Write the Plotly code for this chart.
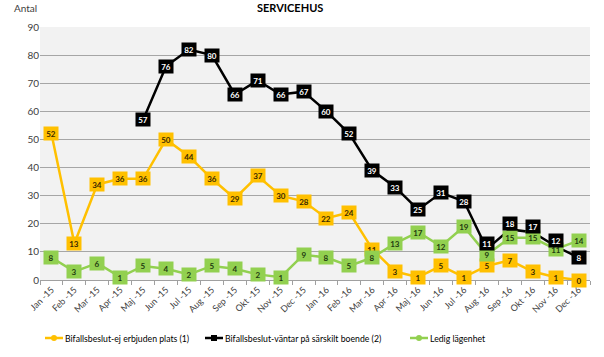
import plotly.graph_objects as go

months = ["Jan -15", "Feb -15", "Mar -15", "Apr -15", "Maj -15", "Jun -15", "Jul -15", "Aug -15",
          "Sep -15", "Okt -15", "Nov -15", "Dec -15", "Jan -16", "Feb -16", "Mar -16", "Apr -16",
          "Maj -16", "Jun -16", "Jul -16", "Aug -16", "Sep -16", "Okt -16", "Nov -16", "Dec -16"]
ej_erbjuden = [52, 13, 34, 36, 36, 50, 44, 36, 29, 37, 30, 28, 22, 24, 11, 3, 1, 5, 1, 5, 7, 3, 1, 0]
vantar = [None, None, None, None, 57, 76, 82, 80, 66, 71, 66, 67, 60, 52, 39, 33, 25, 31, 28, 11, 18, 17, 12, 8]
ledig = [8, 3, 6, 1, 5, 4, 2, 5, 4, 2, 1, 9, 8, 5, 8, 13, 17, 12, 19, 9, 15, 15, 11, 14]

FONT = "Lato"
W, H = 604, 357
ML, MR, MT, MB = 40, 14, 27, 77
PW, PH = W - ML - MR, H - MT - MB

# name, values, line colour, label text colour, legend symbol
series = [
    ("Bifallsbeslut-ej erbjuden plats (1)", ej_erbjuden, "#FFC000", "#3a2a00", "circle"),
    ("Ledig lägenhet", ledig, "#92D050", "#1f3a10", "circle"),
    ("Bifallsbeslut-väntar på särskilt boende (2)", vantar, "#000000", "#ffffff", "square"),
]
legend_order = [0, 2, 1]
legend_x = [45, 205, 410]   # pixel start of each legend item
legend_y = 338


def px_x(p):
    return (p - ML) / PW


def px_y(p):
    return (H - MB - p) / PH


fig = go.Figure()
annotations = []
shapes = []
for name, vals, col, tcol, lsym in series:
    fig.add_trace(go.Scatter(
        x=months, y=vals, mode="lines", name=name, showlegend=False,
        line=dict(color=col, width=2.5), connectgaps=False, hoverinfo="skip",
    ))
    for i, v in enumerate(vals):
        if v is None:
            continue
        shift = 0
        # nudge the black labels up where they collide with the green ones
        if col == "#000000" and abs(v - ledig[i]) < 5:
            shift = 6
        annotations.append(dict(
            x=months[i], y=v, xref="x", yref="y", text="<b>%d</b>" % v, showarrow=False,
            bgcolor=col, width=14, height=13, borderpad=0, yshift=shift,
            font=dict(family=FONT, size=8, color=tcol), xanchor="center", yanchor="middle",
        ))

# manual legend
for k, lx in zip(legend_order, legend_x):
    name, vals, col, tcol, lsym = series[k]
    shapes.append(dict(type="line", xref="paper", yref="paper",
                       x0=px_x(lx), x1=px_x(lx + 18), y0=px_y(legend_y), y1=px_y(legend_y),
                       line=dict(color=col, width=2.5)))
    cx = lx + 9
    kind = "circle" if lsym == "circle" else "rect"
    shapes.append(dict(type=kind, xref="paper", yref="paper",
                       x0=px_x(cx - 3), x1=px_x(cx + 3), y0=px_y(legend_y + 3), y1=px_y(legend_y - 3),
                       fillcolor=col, line=dict(color=col, width=0)))
    annotations.append(dict(text=name, x=px_x(lx + 18), y=px_y(legend_y), xref="paper", yref="paper",
                            showarrow=False, xanchor="left", yanchor="middle",
                            font=dict(family=FONT, size=8.7, color="#000000")))

annotations.append(dict(text="Antal", x=px_x(12), xref="paper", y=px_y(8), yref="paper",
                        showarrow=False, xanchor="left", yanchor="middle",
                        font=dict(family=FONT, size=10, color="#404040")))
annotations.append(dict(text="<b>SERVICEHUS</b>", x=px_x(290), xref="paper", y=px_y(8), yref="paper",
                        showarrow=False, xanchor="center", yanchor="middle",
                        font=dict(family=FONT, size=11, color="#000000")))

fig.update_layout(
    width=W, height=H,
    margin=dict(l=ML, r=MR, t=MT, b=MB, autoexpand=False),
    paper_bgcolor="white", plot_bgcolor="#f2f2f2",
    font=dict(family=FONT, size=10, color="#404040"),
    showlegend=False,
    annotations=annotations,
    shapes=shapes,
)
fig.update_xaxes(type="category", range=[-0.5, 23.5], tickangle=-45, automargin=False,
                 ticks="outside", tickson="boundaries", ticklen=4, tickcolor="#a0a0a0",
                 showline=True, linecolor="#a0a0a0", showgrid=False,
                 tickfont=dict(family=FONT, size=9, color="#404040"))
fig.update_yaxes(range=[0, 90], dtick=10, showgrid=True, gridcolor="#a6a6a6", gridwidth=1,
                 zeroline=False, showline=False, ticks="", automargin=False,
                 tickfont=dict(family=FONT, size=10, color="#404040"))

fig.write_html("out.html", config={"displayModeBar": False},
               post_script="document.body.style.margin='0';")
